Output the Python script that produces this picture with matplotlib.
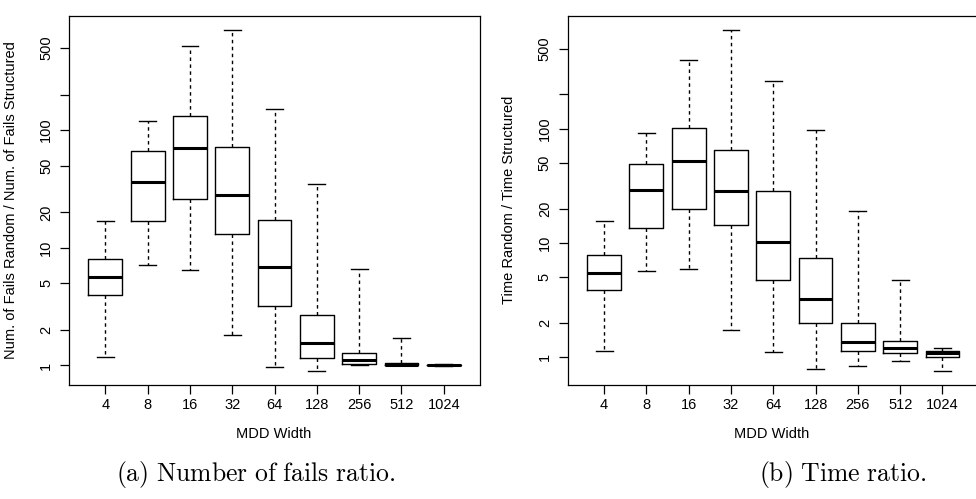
import numpy as np
import matplotlib
matplotlib.use("Agg")
import matplotlib.pyplot as plt

plt.rcParams['font.family'] = ['Liberation Sans', 'DejaVu Sans']
plt.rcParams['mathtext.fontset'] = 'cm'

widths = ["4", "8", "16", "32", "64", "128", "256", "512", "1024"]

# Panel (a): number of fails ratio  (lower whisker, Q1, median, Q3, upper whisker)
fails_whislo = [1.17, 7.18, 6.43, 1.81, 0.98, 0.90, 1.00, 1.00, 0.99]
fails_q1     = [3.96, 17.0, 25.8, 13.1, 3.22, 1.15, 1.02, 1.00, 1.00]
fails_med    = [5.64, 36.2, 70.0, 28.3, 6.90, 1.54, 1.12, 1.01, 1.00]
fails_q3     = [8.02, 66.5, 131.9, 71.4, 17.2, 2.68, 1.27, 1.04, 1.01]
fails_whishi = [16.8, 119.6, 516, 715, 150, 34.6, 6.55, 1.72, 1.02]

# Panel (b): time ratio
time_whislo = [1.13, 5.66, 5.97, 1.72, 1.10, 0.785, 0.834, 0.923, 0.76]
time_q1     = [3.86, 13.4, 20.0, 14.3, 4.78, 2.00, 1.14, 1.08, 1.00]
time_med    = [5.44, 29.2, 52.3, 28.2, 10.1, 3.24, 1.37, 1.215, 1.08]
time_q3     = [7.81, 48.9, 100.4, 65.3, 28.6, 7.45, 1.98, 1.38, 1.13]
time_whishi = [15.6, 91.4, 395, 734, 259, 96.4, 19.1, 4.75, 1.21]

ytick_vals = [1, 2, 5, 10, 20, 50, 100, 200, 500]
ytick_labels = ["1", "2", "5", "10", "20", "50", "100", "", "500"]

ylabels = ["Num. of Fails Random / Num. of Fails Structured",
           "Time Random / Time Structured"]
xlabel = "MDD Width"
captions = [r"$\mathrm{(a)\ Number\ of\ fails\ ratio.}$",
            r"$\mathrm{(b)\ Time\ ratio.}$"]

W, H = 976, 499
fig = plt.figure(figsize=(W / 100, H / 100), dpi=100)

px_unit = 42.3
ax_w = 9.72 * px_unit
lefts = [69, 567.7]
top, bottom = 16, 384.5
axes = [fig.add_axes([l / W, 1 - bottom / H, ax_w / W, (bottom - top) / H]) for l in lefts]

panels = [
    (fails_whislo, fails_q1, fails_med, fails_q3, fails_whishi),
    (time_whislo, time_q1, time_med, time_q3, time_whishi),
]

FS = 10.5
for i, (ax, (lo, q1, med, q3, hi)) in enumerate(zip(axes, panels)):
    stats = []
    for j in range(len(widths)):
        stats.append(dict(whislo=lo[j], q1=q1[j], med=med[j], q3=q3[j],
                          whishi=hi[j], fliers=[], label=widths[j]))
    ax.bxp(stats, positions=np.arange(1, len(widths) + 1), widths=0.8,
           capwidths=0.4, showfliers=False, patch_artist=False,
           boxprops=dict(color='black', linewidth=1.0),
           medianprops=dict(color='black', linewidth=2.2, solid_capstyle='butt'),
           whiskerprops=dict(color='black', linewidth=1.0, linestyle=(0, (2.5, 2.5))),
           capprops=dict(color='black', linewidth=1.0))
    ax.set_yscale('log')
    lmin = np.log10(min(lo))
    lmax = np.log10(max(hi))
    ext = 0.04 * (lmax - lmin)
    ax.set_ylim(10 ** (lmin - ext), 10 ** (lmax + ext))
    ax.set_xlim(0.5 - 0.36, len(widths) + 0.5 + 0.36)
    ax.minorticks_off()
    ax.set_yticks(ytick_vals)
    ax.set_yticklabels(ytick_labels)
    ax.set_xticks(np.arange(1, len(widths) + 1))
    ax.set_xticklabels(widths)
    ax.tick_params(axis='both', direction='out', length=6.5, width=0.9,
                   labelsize=FS, colors='black')
    ax.tick_params(axis='x', pad=3.5)
    ax.tick_params(axis='y', pad=10)
    for lab in ax.get_yticklabels():
        lab.set_rotation(90)
        lab.set_ha('center')
        lab.set_va('center')
    for sp in ax.spines.values():
        sp.set_linewidth(0.9)
        sp.set_color('black')
    ax.set_ylabel(ylabels[i], fontsize=FS)
    ax.yaxis.set_label_coords(-0.123 if i == 0 else -0.126, 0.5)
    cx = 274 if i == 0 else 771.5
    fig.text(cx / W, 1 - 434 / H, xlabel, ha='center', va='center', fontsize=FS)

fig.text(256 / W, 1 - 475 / H, captions[0], ha='center', va='center', fontsize=18.5)
fig.text(843 / W, 1 - 475 / H, captions[1], ha='center', va='center', fontsize=18.5)

fig.savefig("out.png", dpi=100)
